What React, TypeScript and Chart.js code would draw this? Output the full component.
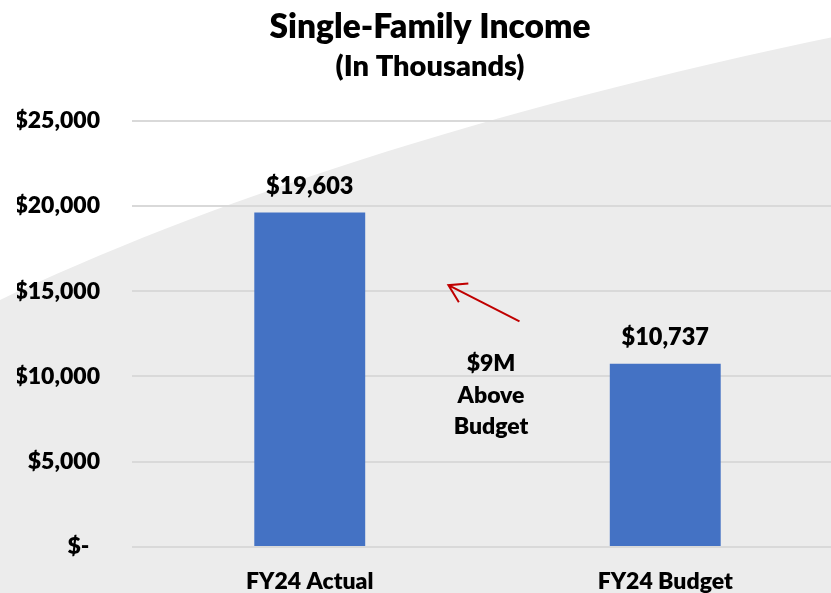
import React, { useEffect, useRef } from "react";
import { Chart, registerables } from "chart.js";

Chart.register(...registerables);

const categories = ["FY24 Actual", "FY24 Budget"];
const incomeValues = [19603, 10737];
const yTicks = [0, 5000, 10000, 15000, 20000, 25000];
const titleText = "Single-Family Income";
const subtitleText = "(In Thousands)";
const noteLines = ["$9M", "Above", "Budget"];
// annotation anchors in data units (category index, value)
const noteAnchor = { x: 0.51, y: 10300 };
const arrowTail = { x: 0.59, y: 13230 };
const arrowHead = { x: 0.39, y: 15350 };

const FONT = "Lato, 'Open Sans', sans-serif";
const W = "800";

const fmt = (v: number) => (v === 0 ? "$-  " : "$" + v.toLocaleString("en-US"));

const bgPlugin = {
  id: "bg",
  beforeDraw(chart: any) {
    const { ctx, width, height } = chart;
    ctx.save();
    ctx.fillStyle = "#ececec";
    ctx.fillRect(0, 0, width, height);
    ctx.fillStyle = "#ffffff";
    ctx.beginPath();
    ctx.moveTo(0, 0);
    ctx.lineTo(0, 300);
    ctx.bezierCurveTo(200, 205, 480, 110, width, 35);
    ctx.lineTo(width, 0);
    ctx.closePath();
    ctx.fill();
    ctx.restore();
  },
};

const labelPlugin = {
  id: "labels",
  afterDatasetsDraw(chart: any) {
    const { ctx } = chart;
    const meta = chart.getDatasetMeta(0);
    const xs = chart.scales.x;
    const ys = chart.scales.y;
    ctx.save();
    ctx.fillStyle = "#000";
    ctx.font = `${W} 23.5px ${FONT}`;
    ctx.textAlign = "center";
    ctx.textBaseline = "alphabetic";
    meta.data.forEach((bar: any, i: number) => {
      ctx.fillText(fmt(incomeValues[i]), bar.x, bar.y - 19);
    });
    ctx.font = `${W} 23px ${FONT}`;
    const nx = xs.getPixelForValue(noteAnchor.x);
    const ny = ys.getPixelForValue(noteAnchor.y);
    noteLines.forEach((t, i) => ctx.fillText(t, nx, ny + i * 31.5));
    // arrow
    const tx = xs.getPixelForValue(arrowTail.x);
    const ty = ys.getPixelForValue(arrowTail.y);
    const hx = xs.getPixelForValue(arrowHead.x);
    const hy = ys.getPixelForValue(arrowHead.y);
    ctx.strokeStyle = "#c00000";
    ctx.lineWidth = 2;
    ctx.beginPath();
    ctx.moveTo(tx, ty);
    ctx.lineTo(hx, hy);
    const ang = Math.atan2(ty - hy, tx - hx);
    const len = 20;
    const spread = 0.55;
    ctx.moveTo(hx + len * Math.cos(ang - spread), hy + len * Math.sin(ang - spread));
    ctx.lineTo(hx, hy);
    ctx.lineTo(hx + len * Math.cos(ang + spread), hy + len * Math.sin(ang + spread));
    ctx.stroke();
    ctx.restore();
  },
};

export default function App() {
  const ref = useRef<HTMLCanvasElement>(null);
  useEffect(() => {
    if (!ref.current) return;
    const chart = new Chart(ref.current, {
      type: "bar",
      data: {
        labels: categories,
        datasets: [
          {
            data: incomeValues,
            backgroundColor: "#4472c4",
            barPercentage: 0.312,
            categoryPercentage: 1,
          },
        ],
      },
      options: {
        animation: false,
        responsive: false,
        layout: { padding: { left: 17, top: 0, right: 0, bottom: 0 } },
        plugins: {
          legend: { display: false },
          tooltip: { enabled: false },
          title: {
            display: true,
            text: titleText,
            color: "#000",
            font: { family: FONT, size: 33.5, weight: W, lineHeight: 1 },
            padding: { top: 10, bottom: 0 },
          },
          subtitle: {
            display: true,
            text: subtitleText,
            color: "#000",
            font: { family: FONT, size: 29, weight: W, lineHeight: 1 },
            padding: { top: 9, bottom: 39 },
          },
        },
        scales: {
          x: {
            grid: { display: false },
            border: { display: false },
            ticks: {
              color: "#000",
              font: { family: FONT, size: 23, weight: W },
              padding: 13,
              maxRotation: 0,
            },
            afterFit(scale: any) {
              scale.height = 46;
            },
          },
          y: {
            min: 0,
            max: 25000,
            afterBuildTicks(scale: any) {
              scale.ticks = yTicks.map((v) => ({ value: v }));
            },
            grid: { color: "#d9d9d9", lineWidth: 2, drawTicks: false },
            border: { display: false },
            ticks: {
              color: "#000",
              font: { family: FONT, size: 23, weight: W },
              padding: 32,
              callback: (v: any) => fmt(Number(v)),
            },
            afterFit(scale: any) {
              scale.width = 115;
            },
          },
        },
      },
      plugins: [bgPlugin, labelPlugin],
    });
    return () => chart.destroy();
  }, []);
  return (
    <div
      style={{
        position: "fixed",
        left: 0,
        top: 0,
        width: 831,
        height: 593,
        overflow: "hidden",
        background: "#ececec",
      }}
    >
      <canvas ref={ref} width={843} height={593} style={{ display: "block" }} />
    </div>
  );
}
